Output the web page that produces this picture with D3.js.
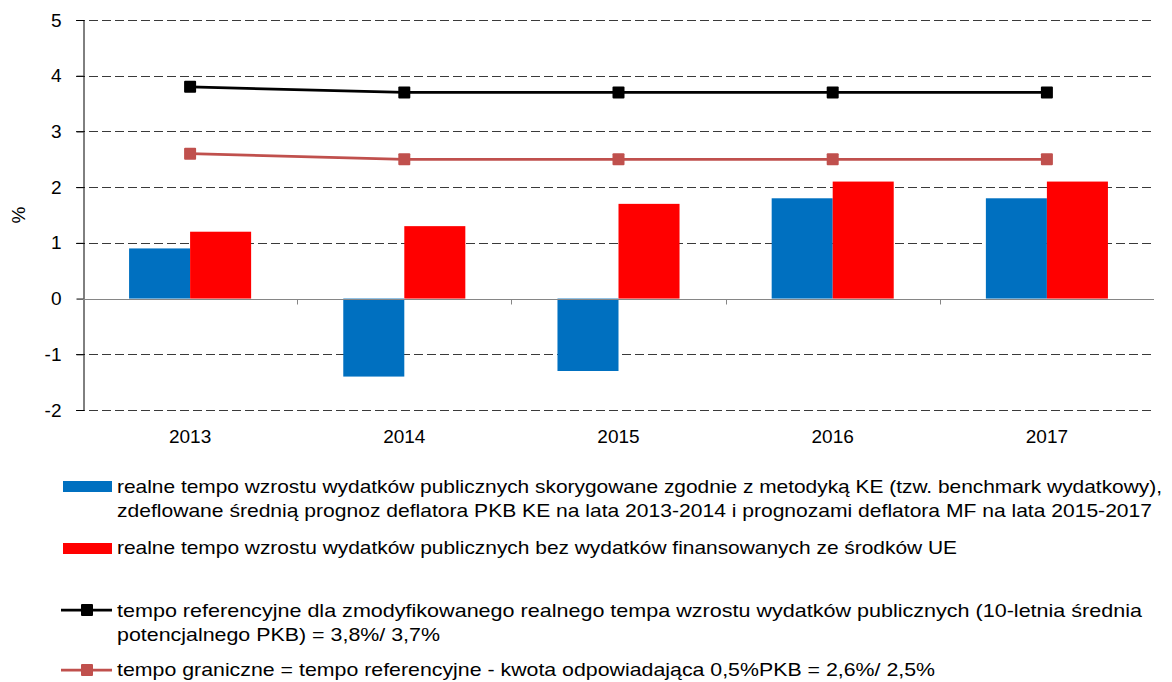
<!DOCTYPE html>
<html>
<head>
<meta charset="utf-8">
<script src="https://cdn.jsdelivr.net/npm/d3@7"></script>
<style>
  body { margin: 0; background: #fff; }
  text { font-family: "Liberation Sans", Arial, sans-serif; fill: #000; }
</style>
</head>
<body>
<div id="chart"></div>
<script>
// data
var years = ["2013", "2014", "2015", "2016", "2017"];
var benchmark = [0.9, -1.4, -1.3, 1.8, 1.8];
var bezUE = [1.2, 1.3, 1.7, 2.1, 2.1];
var referencyjne = [3.8, 3.7, 3.7, 3.7, 3.7];
var graniczne = [2.6, 2.5, 2.5, 2.5, 2.5];
var yTicks = [-2, -1, 0, 1, 2, 3, 4, 5];
var legendBlue = ["realne tempo wzrostu wydatków publicznych skorygowane zgodnie z metodyką KE (tzw. benchmark wydatkowy),",
  "zdeflowane średnią prognoz deflatora PKB KE na lata 2013-2014 i prognozami deflatora MF na lata 2015-2017"];
var legendRed = ["realne tempo wzrostu wydatków publicznych bez wydatków finansowanych ze środków UE"];
var legendBlack = ["tempo referencyjne dla zmodyfikowanego realnego tempa wzrostu wydatków publicznych (10-letnia średnia",
  "potencjalnego PKB) = 3,8%/ 3,7%"];
var legendBrown = ["tempo graniczne = tempo referencyjne - kwota odpowiadająca 0,5%PKB = 2,6%/ 2,5%"];

var svgWidth = 1172;
var svgHeight = 682;
var plot = {left: 83, right: 1154, top: 20, bottom: 410};

var svg = d3.select("#chart")
  .append("svg")
  .attr("width", svgWidth)
  .attr("height", svgHeight);

var x0 = d3.scaleBand()
  .domain(years)
  .range([plot.left, plot.right])
  .padding(0);
var x1 = d3.scaleBand()
  .domain(["b", "r"])
  .range([0, x0.bandwidth()])
  .paddingInner(0)
  .paddingOuter(0.755);
var y = d3.scaleLinear()
  .domain([-2, 5])
  .range([plot.bottom, plot.top]);

// dashed grid (the tick mark is part of the dash line)
svg.append("g")
  .selectAll("line")
  .data(yTicks.filter(d => d !== 0))
  .enter()
  .append("line")
  .attr("x1", plot.left - 7)
  .attr("x2", plot.right)
  .attr("y1", d => Math.round(y(d)) + 0.5)
  .attr("y2", d => Math.round(y(d)) + 0.5)
  .attr("stroke", "#3a3a3a")
  .attr("stroke-dasharray", "9,4");

// y axis
var leftAxis = d3.axisLeft(y).tickValues(yTicks).tickSize(7).tickPadding(15).tickFormat(d => String(d));
var yAxis = svg.append("g")
  .attr("transform", `translate(${plot.left + 0.5},0)`)
  .call(leftAxis);
yAxis.select(".domain").attr("stroke", "#000");
yAxis.selectAll(".tick line").attr("stroke", "#000");
yAxis.selectAll(".tick text")
  .attr("font-size", "19px")
  .attr("font-family", "Liberation Sans, Arial, sans-serif")
  .attr("fill", "#000");

svg.append("text")
  .attr("transform", `translate(25,${(plot.top + plot.bottom) / 2})rotate(-90)`)
  .attr("text-anchor", "middle")
  .attr("font-size", "19px")
  .text("%");

// bars
var groups = svg.append("g")
  .selectAll("g")
  .data(years)
  .enter()
  .append("g")
  .attr("transform", d => `translate(${x0(d)},0)`);
groups.append("rect")
  .attr("x", x1("b"))
  .attr("width", x1.bandwidth())
  .attr("y", (d, i) => y(Math.max(0, benchmark[i])))
  .attr("height", (d, i) => Math.abs(y(benchmark[i]) - y(0)))
  .attr("fill", "#0070C0");
groups.append("rect")
  .attr("x", x1("r"))
  .attr("width", x1.bandwidth())
  .attr("y", (d, i) => y(Math.max(0, bezUE[i])))
  .attr("height", (d, i) => Math.abs(y(bezUE[i]) - y(0)))
  .attr("fill", "#FF0000");

// zero axis with category ticks
var zero = Math.round(y(0)) + 0.5;
svg.append("line")
  .attr("x1", plot.left).attr("x2", plot.right)
  .attr("y1", zero).attr("y2", zero)
  .attr("stroke", "#868686");
svg.append("g")
  .selectAll("line")
  .data(years.slice(1))
  .enter()
  .append("line")
  .attr("x1", d => Math.round(x0(d)) + 0.5)
  .attr("x2", d => Math.round(x0(d)) + 0.5)
  .attr("y1", zero)
  .attr("y2", zero + 5)
  .attr("stroke", "#868686");

// x labels
svg.append("g")
  .selectAll("text")
  .data(years)
  .enter()
  .append("text")
  .attr("x", d => x0(d) + x0.bandwidth() / 2)
  .attr("y", 443)
  .attr("text-anchor", "middle")
  .attr("font-size", "19px")
  .text(d => d);

// lines
var cx = d => x0(d) + x0.bandwidth() / 2;
function drawSeries(vals, color) {
  var line = d3.line()
    .x((d, i) => cx(years[i]))
    .y(d => y(d));
  svg.append("path")
    .datum(vals)
    .attr("d", line)
    .attr("fill", "none")
    .attr("stroke", color)
    .attr("stroke-width", 2.75);
  svg.append("g")
    .selectAll("rect")
    .data(vals)
    .enter()
    .append("rect")
    .attr("x", (d, i) => cx(years[i]) - 6)
    .attr("y", d => y(d) - 6)
    .attr("width", 12)
    .attr("height", 12)
    .attr("rx", 1)
    .attr("fill", color);
}
drawSeries(referencyjne, "#000000");
drawSeries(graniczne, "#C0504D");

// legend
var legend = svg.append("g");
function legendText(lines, baselines, widths) {
  lines.forEach(function(t, i) {
    legend.append("text")
      .attr("x", 117)
      .attr("y", baselines[i])
      .attr("font-size", "18.5px")
      .attr("textLength", widths[i])
      .attr("lengthAdjust", "spacingAndGlyphs")
      .text(t);
  });
}
legend.append("rect").attr("x", 63).attr("y", 481).attr("width", 49).attr("height", 11).attr("fill", "#0070C0");
legendText(legendBlue, [493, 517], [1045, 1035]);
legend.append("rect").attr("x", 63).attr("y", 543).attr("width", 49).attr("height", 11).attr("fill", "#FF0000");
legendText(legendRed, [554], [840]);

function legendLine(yy, color) {
  legend.append("line")
    .attr("x1", 61).attr("x2", 112)
    .attr("y1", yy).attr("y2", yy)
    .attr("stroke", color)
    .attr("stroke-width", 2.75);
  legend.append("rect")
    .attr("x", 81).attr("y", yy - 6)
    .attr("width", 12).attr("height", 12)
    .attr("rx", 1)
    .attr("fill", color);
}
legendLine(610, "#000000");
legendText(legendBlack, [617, 641], [1025, 323]);
legendLine(670, "#C0504D");
legendText(legendBrown, [676], [818]);
</script>
</body>
</html>
